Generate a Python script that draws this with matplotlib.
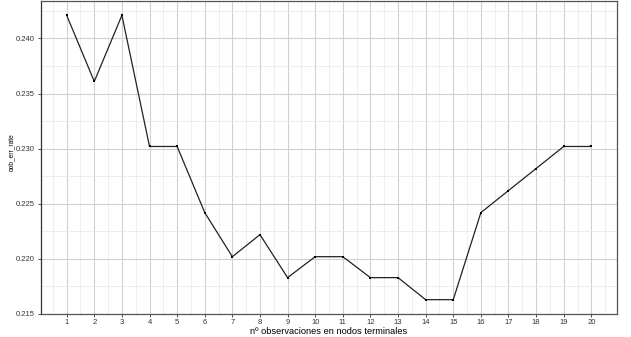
import matplotlib
matplotlib.use("Agg")
import matplotlib.pyplot as plt
from matplotlib.ticker import MultipleLocator

# number of observations in terminal nodes vs out-of-bag error rate
nodesize = list(range(1, 21))
oob_err_rate = [0.2421, 0.2361, 0.2421, 0.2302, 0.2302, 0.2242, 0.2202, 0.2222,
                0.2183, 0.2202, 0.2202, 0.2183, 0.2183, 0.2163, 0.2163, 0.2242,
                0.2262, 0.2282, 0.2302, 0.2302]
y_ticks = [0.215, 0.220, 0.225, 0.230, 0.235, 0.240]

plt.rcParams["font.family"] = ["Liberation Sans", "DejaVu Sans"]

fig = plt.figure(figsize=(6.31, 3.37), dpi=100)
ax = fig.add_axes([41 / 631, 1 - 314 / 337, (617 - 41) / 631, (314 - 1) / 337])

# grid: major + minor, ggplot-like light grey on white
ax.set_axisbelow(True)
ax.xaxis.set_major_locator(MultipleLocator(1))
ax.xaxis.set_minor_locator(MultipleLocator(0.5))
ax.set_yticks(y_ticks)
ax.yaxis.set_minor_locator(MultipleLocator(0.0025))
ax.grid(which="major", color="#d0d0d0", linewidth=0.8)
ax.grid(which="minor", color="#e8e8e8", linewidth=0.5)

ax.plot(nodesize, oob_err_rate, color="#222222", linewidth=0.9,
        marker="s", markersize=1.8, markerfacecolor="black", markeredgewidth=0)

ax.set_xlim(0.07, 20.93)
ax.set_ylim(0.215, 0.2434)
ax.set_yticklabels([f"{v:.3f}" for v in y_ticks])

for spine in ax.spines.values():
    spine.set_color("#555555")
    spine.set_linewidth(0.9)
ax.spines["left"].set_color("#333333")

ax.tick_params(which="major", length=2.5, width=0.6, color="#333333",
               labelsize=5.5, labelcolor="#333333", pad=2)
ax.tick_params(axis="x", which="major", pad=1.2)
ax.tick_params(which="minor", length=0)

ax.set_xlabel("nº observaciones en nodos terminales", fontsize=6.7, labelpad=0.3)
ax.set_ylabel("oob_err_rate", fontsize=4.8, va="center")
ax.yaxis.set_label_coords(-0.052, 0.518)

fig.savefig("out.png", dpi=100)
